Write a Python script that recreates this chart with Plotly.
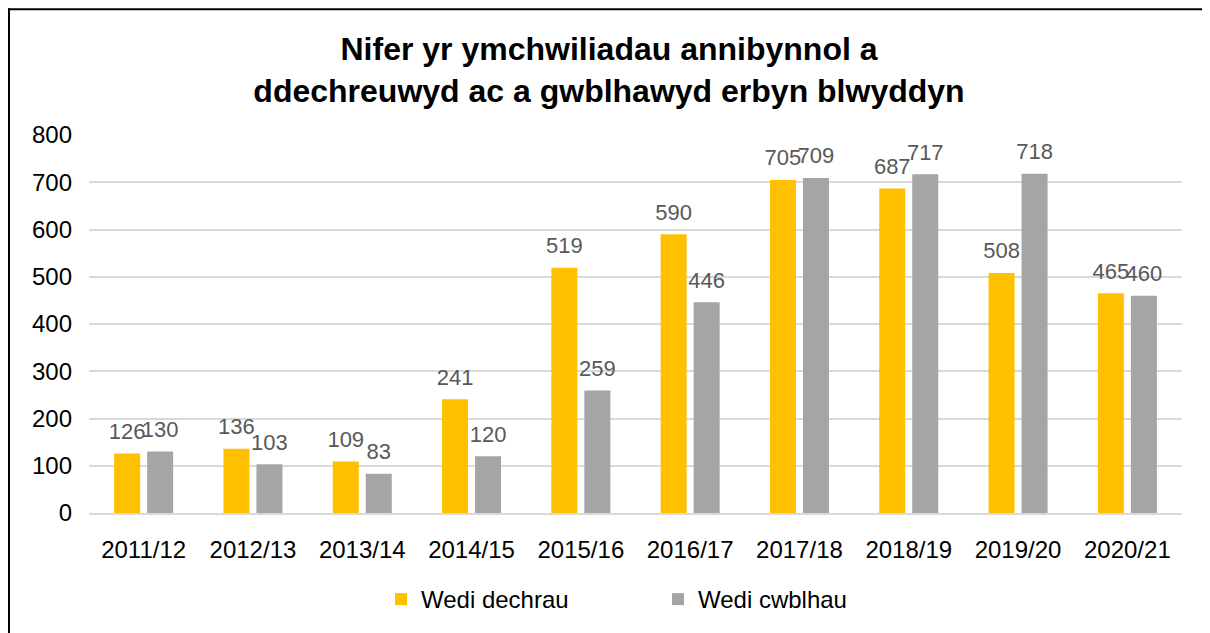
import plotly.graph_objects as go

categories = ["2011/12", "2012/13", "2013/14", "2014/15", "2015/16",
              "2016/17", "2017/18", "2018/19", "2019/20", "2020/21"]
started = [126, 136, 109, 241, 519, 590, 705, 687, 508, 465]
completed = [130, 103, 83, 120, 259, 446, 709, 717, 718, 460]
series_names = ["Wedi dechrau", "Wedi cwblhau"]
y_ticks = [0, 100, 200, 300, 400, 500, 600, 700, 800]

FONT = "Liberation Sans, Arial, sans-serif"

# figure is placed inside the page body with an 8px margin
W, H = 1202, 625
L, R, T, B = 81, 1174, 127, 506

def px_x(p):
    return (p - L) / (R - L)

def px_y(p):
    return (B - p) / (B - T)

fig = go.Figure()
series = [(started, series_names[0], "#FFC000", "g1"),
          (completed, series_names[1], "#A5A5A5", "g2")]
for vals, name, color, grp in series:
    fig.add_trace(go.Bar(
        x=categories, y=vals, name=name, offsetgroup=grp,
        marker=dict(color=color, line=dict(width=0)),
    ))
# data labels, grouped the same way as the bars
for vals, name, color, grp in series:
    fig.add_trace(go.Scatter(
        x=categories, y=vals, offsetgroup=grp, showlegend=False,
        mode="markers+text", text=[str(v) for v in vals],
        textposition="top center",
        marker=dict(size=13, color="rgba(0,0,0,0)"),
        textfont=dict(family=FONT, size=22, color="#595959"),
        cliponaxis=False, hoverinfo="skip",
    ))

fig.update_layout(
    width=W, height=H,
    margin=dict(l=L, r=W - R, t=T, b=H - B),
    paper_bgcolor="white", plot_bgcolor="white",
    barmode="group", bargap=0.396, bargroupgap=0.212,
    scattermode="group", scattergap=0.396,
    font=dict(family=FONT, color="black"),
    title=dict(
        text="<b>Nifer yr ymchwiliadau annibynnol a<br>ddechreuwyd ac a gwblhawyd erbyn blwyddyn</b>",
        x=0.5, xref="container", xanchor="center",
        y=(H - 52) / H, yanchor="middle", yref="container",
        font=dict(family=FONT, size=32, color="black"),
    ),
    xaxis=dict(
        showgrid=False, showline=True, linecolor="#D9D9D9", linewidth=2,
        ticks="", tickfont=dict(family=FONT, size=24, color="black"),
        ticklabelstandoff=14,
    ),
    yaxis=dict(
        range=[0, 800], tickvals=y_ticks, showgrid=True, gridcolor="#D9D9D9",
        gridwidth=2, zeroline=False, showline=False, ticks="",
        tickfont=dict(family=FONT, size=24, color="black"),
        ticklabelstandoff=16,
    ),
    legend=dict(
        orientation="h", x=px_x(373), xanchor="left",
        y=px_y(569), yanchor="top",
        font=dict(family=FONT, size=24, color="black"),
        entrywidth=232, entrywidthmode="pixels",
        traceorder="normal", itemclick=False,
    ),
    shapes=[
        dict(type="line", xref="paper", yref="paper",
             x0=px_x(0), x1=px_x(W + 20), y0=px_y(1), y1=px_y(1),
             line=dict(color="black", width=2)),
        dict(type="line", xref="paper", yref="paper",
             x0=px_x(1), x1=px_x(1), y0=px_y(0), y1=px_y(H + 20),
             line=dict(color="black", width=2)),
    ],
)

fig.write_html("out.html")
